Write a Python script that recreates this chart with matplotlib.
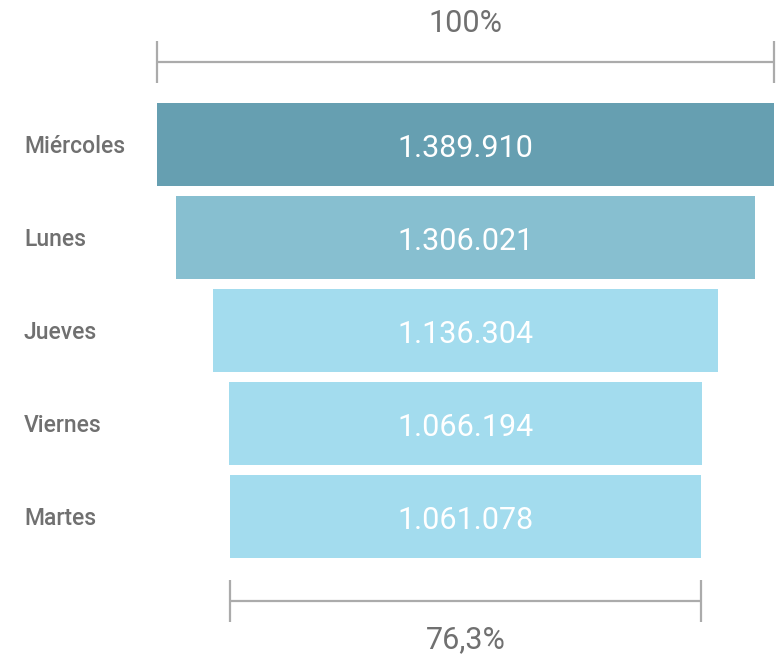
import matplotlib.pyplot as plt

days = ["Miércoles", "Lunes", "Jueves", "Viernes", "Martes"]
values = [1389910, 1306021, 1136304, 1066194, 1061078]
bar_colors = ["#669fb1", "#87bfd0", "#a3dcee", "#a3dcee", "#a3dcee"]

TEXT_GRAY = "#707070"
LINE_GRAY = "#ababab"


def fmt_es(v):
    return f"{v:,}".replace(",", ".")


W, H = 782, 658
fig = plt.figure(figsize=(W / 100, H / 100), dpi=100)
ax = fig.add_axes([0, 0, 1, 1])
ax.axis("off")

vmax = max(values)
# map pixel space so the widest bar spans x=157..774 px, rows every 93 px
px = vmax / 617
ax.set_xlim(-vmax / 2 - 157 * px, vmax / 2 + (W - 774) * px)
row0, pitch = 144.5, 93
ax.set_ylim((H - row0) / pitch, -row0 / pitch)

ys = range(len(values))
ax.barh(ys, values, left=[-v / 2 for v in values], height=83 / pitch,
        color=bar_colors, edgecolor="none")

for y, day, v in zip(ys, days, values):
    ax.text(-vmax / 2 - 133 * px, y + 0.025, day, ha="left", va="center",
            fontsize=16.5, color=TEXT_GRAY, family="Roboto", weight="medium")
    ax.text(0, y + 0.04, fmt_es(v), ha="center", va="center",
            fontsize=22, color="white", family="Roboto")


def bracket(x0, x1, y, ytxt, label, va):
    ax.plot([x0, x1], [y, y], color=LINE_GRAY, lw=1.6, solid_capstyle="butt")
    for x in (x0, x1):
        ax.plot([x, x], [y - 0.225, y + 0.225], color=LINE_GRAY, lw=1.6,
                solid_capstyle="butt")
    ax.text((x0 + x1) / 2, ytxt, label, ha="center", va=va,
            fontsize=22, color=TEXT_GRAY, family="Roboto")


top_y = (62 - row0) / pitch
bracket(-vmax / 2, vmax / 2, top_y, (24 - row0) / pitch, "100%", "center")

last = values[-1]
bot_y = (601 - row0) / pitch
pct = f"{last / vmax * 100:.1f}%".replace(".", ",")
bracket(-last / 2, last / 2, bot_y, (640 - row0) / pitch, pct, "center")

fig.savefig("out.png", dpi=100, facecolor="white")
